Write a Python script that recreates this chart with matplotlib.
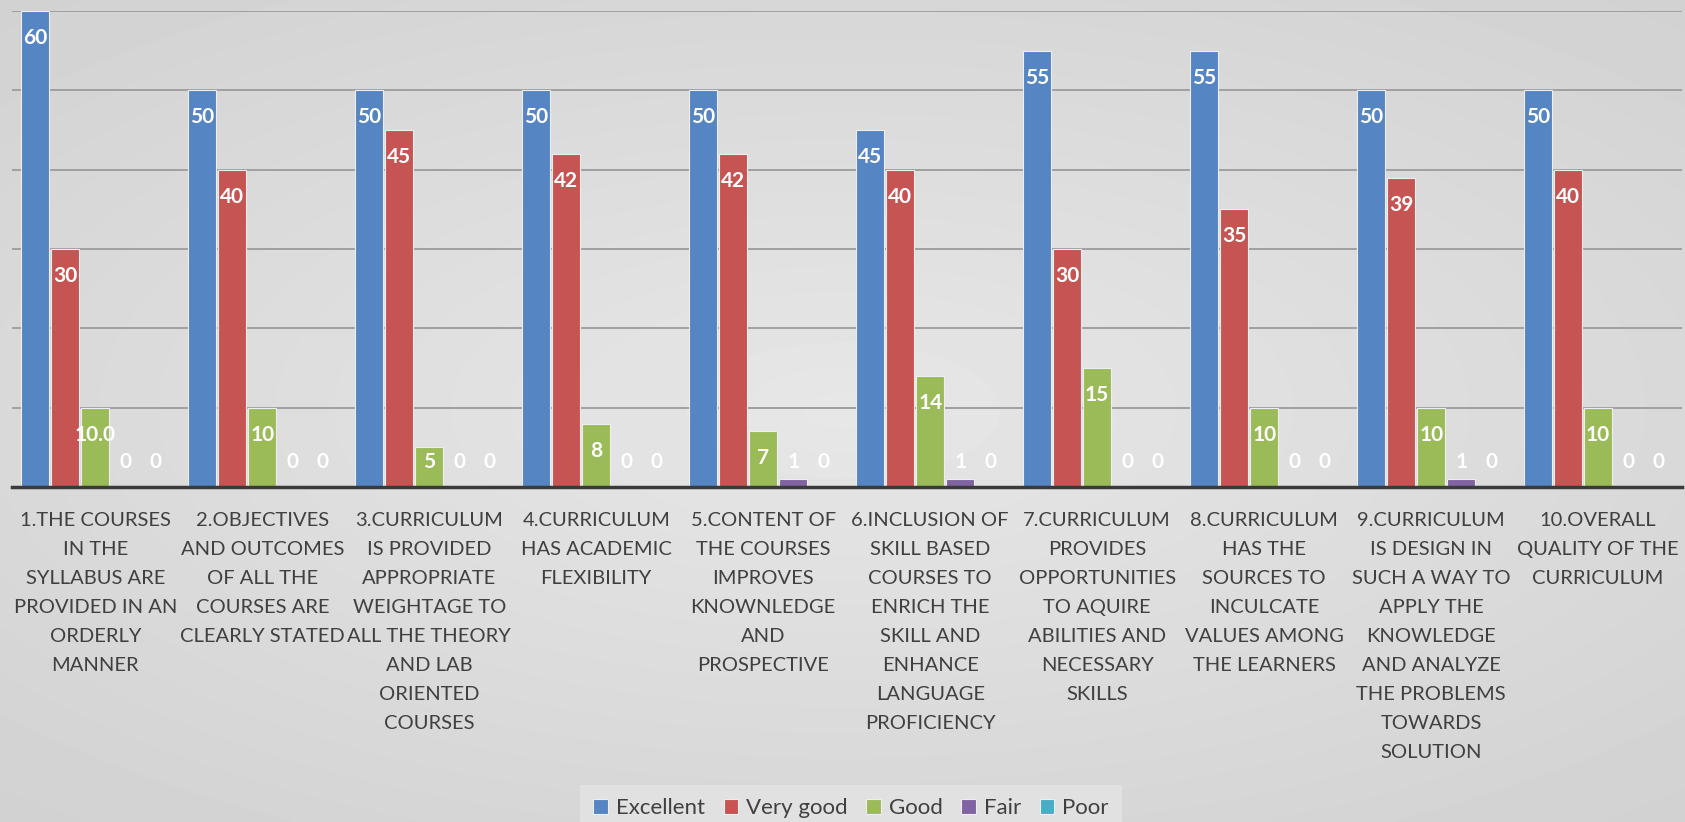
import numpy as np
import matplotlib
matplotlib.use("Agg")
import matplotlib.pyplot as plt

plt.rcParams['font.family'] = ['Lato', 'DejaVu Sans']

categories = [
    "1.THE COURSES\nIN THE\nSYLLABUS ARE\nPROVIDED IN AN\nORDERLY\nMANNER",
    "2.OBJECTIVES\nAND OUTCOMES\nOF ALL THE\nCOURSES ARE\nCLEARLY STATED",
    "3.CURRICULUM\nIS PROVIDED\nAPPROPRIATE\nWEIGHTAGE TO\nALL THE THEORY\nAND LAB\nORIENTED\nCOURSES",
    "4.CURRICULUM\nHAS ACADEMIC\nFLEXIBILITY",
    "5.CONTENT OF\nTHE COURSES\nIMPROVES\nKNOWNLEDGE\nAND\nPROSPECTIVE",
    "6.INCLUSION OF\nSKILL BASED\nCOURSES TO\nENRICH THE\nSKILL AND\nENHANCE\nLANGUAGE\nPROFICIENCY",
    "7.CURRICULUM\nPROVIDES\nOPPORTUNITIES\nTO AQUIRE\nABILITIES AND\nNECESSARY\nSKILLS",
    "8.CURRICULUM\nHAS THE\nSOURCES TO\nINCULCATE\nVALUES AMONG\nTHE LEARNERS",
    "9.CURRICULUM\nIS DESIGN IN\nSUCH A WAY TO\nAPPLY THE\nKNOWLEDGE\nAND ANALYZE\nTHE PROBLEMS\nTOWARDS\nSOLUTION",
    "10.OVERALL\nQUALITY OF THE\nCURRICULUM",
]

excellent = [60, 50, 50, 50, 50, 45, 55, 55, 50, 50]
very_good = [30, 40, 45, 42, 42, 40, 30, 35, 39, 40]
good = [10, 10, 5, 8, 7, 14, 15, 10, 10, 10]
fair = [0, 0, 0, 0, 1, 1, 0, 0, 1, 0]
poor = [0, 0, 0, 0, 0, 0, 0, 0, 0, 0]
good_labels = ["10.0", "10", "5", "8", "7", "14", "15", "10", "10", "10"]

series = [
    ("Excellent", excellent, "#5585c2", None),
    ("Very good", very_good, "#c65452", None),
    ("Good", good, "#9bbb59", good_labels),
    ("Fair", fair, "#8064a2", None),
    ("Poor", poor, "#4bacc6", None),
]

fig = plt.figure(figsize=(16.85, 8.22), dpi=100)

# fond en degrade
bg = fig.add_axes([0, 0, 1, 1], zorder=-10)
yy, xx = np.mgrid[-1:1:200j, -1:1:400j]
r = np.sqrt((xx * 0.8) ** 2 + (yy * 0.9) ** 2)
bg.imshow(0.905 - 0.07 * r, cmap="gray", vmin=0, vmax=1, aspect="auto",
          extent=[0, 1, 0, 1], interpolation="bilinear")
bg.axis("off")

ax = fig.add_axes([0.007, 0.4075, 0.991, 0.5791])
ax.set_facecolor("none")

x = np.arange(len(categories))
step = 0.18
width = 0.168
for i, (name, vals, color, labs) in enumerate(series):
    pos = x + (i - 2) * step
    ax.bar(pos, vals, width, color=color, label=name, edgecolor="#eeeeee",
           linewidth=0.8, zorder=3)
    if labs is None:
        labs = [str(v) for v in vals]
    for p, v, t in zip(pos, vals, labs):
        ax.text(p, max(v - 3.4, 3.15), t, ha="center", va="center",
                color="white", fontsize=15, fontweight="bold", zorder=5)

ax.set_xlim(-0.5, 9.5)
ax.set_ylim(0, 60)
ax.set_yticks(range(10, 61, 10))
ax.yaxis.grid(True, color="#a0a0a0", linewidth=1.4, zorder=0)
ax.set_axisbelow(True)
ax.tick_params(axis="y", left=False, labelleft=False)
ax.set_xticks(x)
ax.set_xticklabels(categories, fontsize=14.5, color="#404040", linespacing=1.86)
ax.tick_params(axis="x", length=0, pad=18)
for s in ["top", "right", "left"]:
    ax.spines[s].set_visible(False)
ax.spines["bottom"].set_color("#3a3a3a")
ax.spines["bottom"].set_linewidth(2.5)
ax.spines["bottom"].set_zorder(6)

leg = fig.legend(loc="lower center", bbox_to_anchor=(0.505, -0.025), ncol=5,
                 frameon=True, fontsize=16, handlelength=0.65, handleheight=0.65,
                 handletextpad=0.35, columnspacing=0.85, borderpad=0.6)
leg.get_frame().set_facecolor("#e4e4e4")
leg.get_frame().set_edgecolor("none")
leg.get_frame().set_boxstyle("square", pad=0)
for t in leg.get_texts():
    t.set_color("#404040")

fig.savefig("out.png", dpi=100)
